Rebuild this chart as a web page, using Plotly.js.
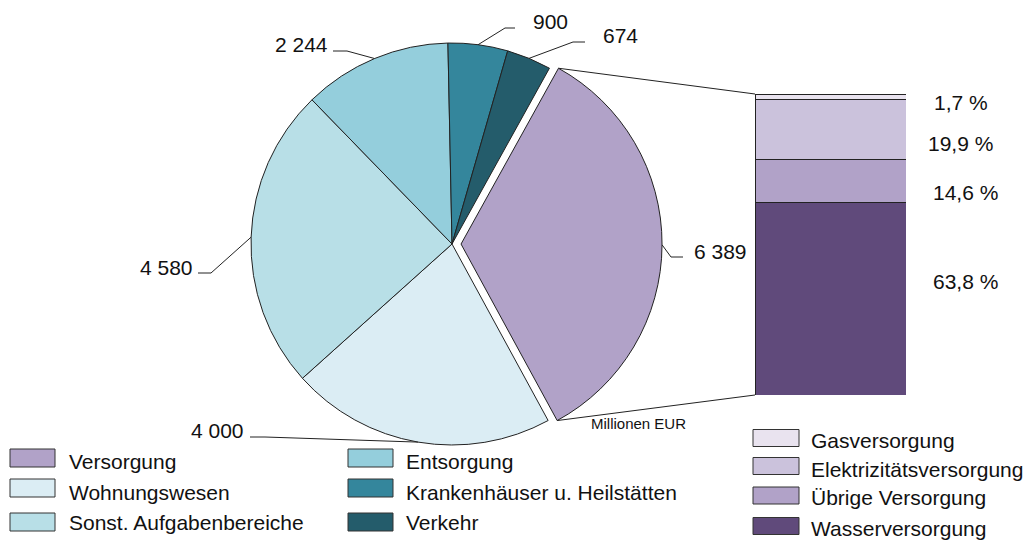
<!DOCTYPE html>
<html><head><meta charset="utf-8">
<script src="https://cdn.plot.ly/plotly-3.0.1.min.js"></script>
<style>html,body{margin:0;padding:0;background:#fff}#chart{width:1027px;height:542px}</style>
</head><body><div id="chart"></div>
<script>
// ---- data ----
const categories = ['Versorgung','Wohnungswesen','Sonst. Aufgabenbereiche','Entsorgung','Krankenhäuser u. Heilstätten','Verkehr'];
const values = [6389, 4000, 4580, 2244, 900, 674];
const valueLabels = ['6 389','4 000','4 580','2 244','900','674'];
const sliceColors = ['#b1a2c8','#dbedf4','#b8dfe7','#94cedc','#34869c','#245c6b'];
const subCategories = ['Gasversorgung','Elektrizitätsversorgung','Übrige Versorgung','Wasserversorgung'];
const subShares = [1.7, 19.9, 14.6, 63.8];
const subLabels = ['1,7 %','19,9 %','14,6 %','63,8 %'];
const subColors = ['#e9e3ef','#cbc2dc','#b1a2c8','#604a7b'];
const unitLabel = 'Millionen EUR';

// ---- layout constants (pixels) ----
const W = 1027, H = 542;
const cx = 452, cy = 244, R = 201, PULL = 0.045, ROT = 29;
const barBox = {x0: 755, x1: 906, yTop: 94, yBot: 395};
// per slice: elbow x,y ; line end x ; text x, y, anchor
const labelLayout = [
  {ex: 671, ey: 257, lx: 683, tx: 692, ty: 251, a: 'left'},
  {ex: 265, ey: 437, lx: 250, tx: 246, ty: 430, a: 'right'},
  {ex: 211, ey: 273, lx: 198, tx: 195, ty: 267, a: 'right'},
  {ex: 347, ey: 51,  lx: 333, tx: 330, ty: 44,  a: 'right'},
  {ex: 505, ey: 28,  lx: 515, tx: 531, ty: 21,  a: 'left'},
  {ex: 573, ey: 42,  lx: 585, tx: 601, ty: 35,  a: 'left'}
];
const subLabelPos = [{x: 961, y: 102}, {x: 960, y: 143}, {x: 965, y: 192}, {x: 965, y: 281}];
const legLeft = {swX: [10, 348], txX: [67, 404], swY: [458, 488, 522], txY: [461, 492, 522], w: 45, h: 18};
const legRight = {swX: 753, txX: 809, swY: [438, 466, 495.5, 526], txY: [440, 469, 497.5, 528], w: 46, h: 17};

const FONT = 'Liberation Sans, Arial, sans-serif';
const px = x => x / W;
const py = y => 1 - y / H;

const pulls = values.map((v, i) => i === 0 ? PULL : 0);
const half = R * (1 + PULL);

const total = values.reduce((a, b) => a + b, 0);
// slice angles (clockwise from 12 o'clock, degrees)
const starts = [], ends = [];
let acc = ROT;
values.forEach(v => { starts.push(acc); acc += 360 * v / total; ends.push(acc); });
const rad = d => d * Math.PI / 180;
function edgePoint(i, ang) {
  const mid = (starts[i] + ends[i]) / 2;
  const off = pulls[i] * R;
  return [cx + R * Math.sin(rad(ang)) + off * Math.sin(rad(mid)),
          cy - R * Math.cos(rad(ang)) - off * Math.cos(rad(mid))];
}

const shapes = [];
const annotations = [];

// leader lines + value labels
values.forEach((v, i) => {
  const mid = (starts[i] + ends[i]) / 2;
  const p = edgePoint(i, mid);
  const L = labelLayout[i];
  shapes.push({type: 'path', xref: 'paper', yref: 'paper',
    path: `M${px(p[0])},${py(p[1])} L${px(L.ex)},${py(L.ey)} L${px(L.lx)},${py(L.ey)}`,
    line: {color: '#222', width: 1}});
  annotations.push({xref: 'paper', yref: 'paper', x: px(L.tx), y: py(L.ty), text: valueLabels[i],
    showarrow: false, xanchor: L.a, yanchor: 'middle', font: {family: FONT, size: 21, color: '#111'}});
});

// connection lines from pulled slice to bar
const cTop = edgePoint(0, starts[0]);
const cBot = edgePoint(0, ends[0]);
shapes.push({type: 'line', xref: 'paper', yref: 'paper', x0: px(cTop[0]), y0: py(cTop[1]), x1: px(barBox.x0), y1: py(barBox.yTop), line: {color: '#222', width: 1}});
shapes.push({type: 'line', xref: 'paper', yref: 'paper', x0: px(cBot[0]), y0: py(cBot[1]), x1: px(barBox.x0), y1: py(barBox.yBot), line: {color: '#222', width: 1}});

// sub labels
subLabels.forEach((t, i) => {
  annotations.push({xref: 'paper', yref: 'paper', x: px(subLabelPos[i].x), y: py(subLabelPos[i].y), text: t,
    showarrow: false, xanchor: 'center', yanchor: 'middle', font: {family: FONT, size: 21, color: '#111'}});
});

annotations.push({xref: 'paper', yref: 'paper', x: px(589), y: py(423), text: unitLabel,
  showarrow: false, xanchor: 'left', yanchor: 'middle', font: {family: FONT, size: 15, color: '#111'}});

// left legend
categories.forEach((c, i) => {
  const col = Math.floor(i / 3), row = i % 3;
  const sx = legLeft.swX[col], sy = legLeft.swY[row];
  shapes.push({type: 'rect', xref: 'paper', yref: 'paper', x0: px(sx), x1: px(sx + legLeft.w),
    y0: py(sy - legLeft.h / 2), y1: py(sy + legLeft.h / 2), fillcolor: sliceColors[i], line: {color: '#333', width: 1}});
  annotations.push({xref: 'paper', yref: 'paper', x: px(legLeft.txX[col]), y: py(legLeft.txY[row]), text: c,
    showarrow: false, xanchor: 'left', yanchor: 'middle', font: {family: FONT, size: 21, color: '#111'}});
});
// right legend
subCategories.forEach((c, i) => {
  const sy = legRight.swY[i];
  shapes.push({type: 'rect', xref: 'paper', yref: 'paper', x0: px(legRight.swX), x1: px(legRight.swX + legRight.w),
    y0: py(sy - legRight.h / 2), y1: py(sy + legRight.h / 2), fillcolor: subColors[i], line: {color: '#333', width: 1}});
  annotations.push({xref: 'paper', yref: 'paper', x: px(legRight.txX), y: py(legRight.txY[i]), text: c,
    showarrow: false, xanchor: 'left', yanchor: 'middle', font: {family: FONT, size: 21, color: '#111'}});
});

const traces = [{
  type: 'pie', values: values, labels: categories, sort: false, direction: 'clockwise', rotation: ROT,
  pull: pulls, marker: {colors: sliceColors, line: {color: '#222', width: 1}},
  textinfo: 'none', hoverinfo: 'label+value', showlegend: false,
  domain: {x: [px(cx - half), px(cx + half)], y: [py(cy + half), py(cy - half)]}
}];
// stacked bar, bottom to top
for (let i = subShares.length - 1; i >= 0; i--) {
  traces.push({type: 'bar', x: [0], y: [subShares[i]], name: subCategories[i], width: 1,
    marker: {color: subColors[i], line: {color: '#222', width: 1}}, showlegend: false, hoverinfo: 'name+y'});
}

const layout = {
  width: W, height: H, margin: {l: 0, r: 0, t: 0, b: 0},
  paper_bgcolor: '#fff', plot_bgcolor: 'rgba(0,0,0,0)',
  barmode: 'stack', showlegend: false,
  xaxis: {domain: [px(barBox.x0), px(barBox.x1)], range: [-0.5, 0.5], visible: false, fixedrange: true},
  yaxis: {domain: [py(barBox.yBot), py(barBox.yTop)], range: [0, 100], visible: false, fixedrange: true},
  shapes: shapes, annotations: annotations
};
Plotly.newPlot('chart', traces, layout, {displayModeBar: false, staticPlot: true});
</script>
</body></html>
